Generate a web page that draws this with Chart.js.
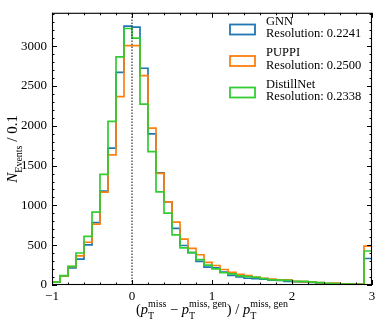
<!DOCTYPE html>
<html><head><meta charset="utf-8">
<script src="https://cdn.jsdelivr.net/npm/chart.js@4.4.1/dist/chart.umd.min.js"></script>
<style>html,body{margin:0;padding:0;background:#fff;}#wrap{width:382px;height:327px;position:relative;}</style>
</head><body><div id="wrap"><canvas id="c" width="382" height="327"></canvas></div>
<script>
// Bin edges (width 0.1) from -1 to 3
const binEdges = [-1.0,-0.9,-0.8,-0.7,-0.6,-0.5,-0.4,-0.3,-0.2,-0.1,0.0,0.1,0.2,0.3,0.4,0.5,0.6,0.7,0.8,0.9,1.0,1.1,1.2,1.3,1.4,1.5,1.6,1.7,1.8,1.9,2.0,2.1,2.2,2.3,2.4,2.5,2.6,2.7,2.8,2.9,3.0];
const gnnCounts     = [35,110,216,325,504,784,1180,1720,2671,3252,3240,2723,1899,1410,1045,711,496,406,297,224,215,163,122,102,85,80,75,61,58,45,41,40,33,12,15,10,12,10,8,333];
const puppiCounts   = [35,115,232,366,537,765,1167,1634,2366,3008,3008,2630,1972,1402,1045,789,577,459,380,285,245,195,160,135,118,98,85,73,65,65,45,42,35,30,22,25,15,12,10,488];
const distillCounts = [35,118,235,402,610,915,1390,2057,2866,3223,3101,2272,1675,1171,902,630,467,406,320,250,203,154,140,114,105,95,80,65,61,58,45,45,35,30,20,18,12,10,8,427];
const seriesNames = ['GNN','PUPPI','DistillNet'];
const resolutions = ['0.2241','0.2500','0.2338'];
const seriesColors = ['#1f77b4','#ff7f0e','#32cd32'];
const xTicks = [-1,0,1,2,3];
const yTicks = [0,500,1000,1500,2000,2500,3000];
const yMax = 3420;

const FONT = "'Liberation Serif', 'DejaVu Serif', serif";

function stepPoints(counts){
  const pts = counts.map((v,i)=>({x:binEdges[i], y:v}));
  pts.push({x:binEdges[binEdges.length-1], y:counts[counts.length-1]});
  return pts;
}
const allCounts = [gnnCounts, puppiCounts, distillCounts];
const datasets = allCounts.map((c,i)=>({
  label: seriesNames[i], data: stepPoints(c), borderColor: seriesColors[i],
  borderWidth: 1.7, stepped: 'before', pointRadius: 0, fill: false, tension: 0,
  order: 3 - i
}));
datasets.push({label:'zero', data:[{x:0,y:0},{x:0,y:yMax}], borderColor:'#333', borderWidth:1.2,
  borderDash:[1.5,1.5], pointRadius:0, fill:false, order: 0});

function drawMath(ctx, parts, cx, cy, base, small){
  const widths = parts.map(p=>{
    ctx.font = (p.it?'italic ':'') + base + 'px ' + FONT;
    let w = ctx.measureText(p.t).width;
    let ws = 0;
    ctx.font = small + 'px ' + FONT;
    if (p.sub) ws = Math.max(ws, ctx.measureText(p.sub).width);
    if (p.sup) ws = Math.max(ws, ctx.measureText(p.sup).width);
    return {w, ws};
  });
  const total = widths.reduce((a,b)=>a+b.w+b.ws,0);
  let x = cx - total/2;
  ctx.textBaseline = 'alphabetic';
  ctx.textAlign = 'left';
  parts.forEach((p,i)=>{
    ctx.font = (p.it?'italic ':'') + base + 'px ' + FONT;
    ctx.fillText(p.t, x, cy);
    x += widths[i].w;
    ctx.font = small + 'px ' + FONT;
    if (p.sub) ctx.fillText(p.sub, x, cy + base*0.32);
    if (p.sup) ctx.fillText(p.sup, x, cy - base*0.5);
    x += widths[i].ws;
  });
}

const decorPlugin = {
  id: 'decor',
  afterDatasetsDraw(chart){
    const ctx = chart.ctx, a = chart.chartArea;
    const xs = chart.scales.x, ys = chart.scales.y;
    ctx.save();
    ctx.strokeStyle = '#000';
    ctx.lineWidth = 1;
    const tick = (x1,y1,x2,y2)=>{ctx.beginPath();ctx.moveTo(x1,y1);ctx.lineTo(x2,y2);ctx.stroke();};
    for (let k=0;k<=20;k++){
      const v = -1 + k*0.2;
      const px = Math.round(xs.getPixelForValue(v))+0.5;
      const major = (k%5===0);
      const L = major?5:2.5;
      tick(px,a.bottom,px,a.bottom-L);
      tick(px,a.top,px,a.top+L);
    }
    for (let v=0; v<=yMax; v+=100){
      const py = Math.round(ys.getPixelForValue(v))+0.5;
      const major = (v%500===0);
      const L = major?5:2.5;
      tick(a.left,py,a.left+L,py);
      tick(a.right,py,a.right-L,py);
    }
    ctx.lineWidth = 1.1;
    ctx.strokeRect(a.left+0.5, a.top+0.5, a.right-a.left-1, a.bottom-a.top-1);
    ctx.restore();
  },
  afterDraw(chart){
    const ctx = chart.ctx;
    ctx.save();
    ctx.fillStyle = '#000';
    for (let i=0;i<seriesNames.length;i++){
      const y0 = 21.5 + i*31.5;
      ctx.strokeStyle = seriesColors[i];
      ctx.lineWidth = 1.8;
      ctx.strokeRect(230, y0+3, 25, 10);
      ctx.font = '12.5px ' + FONT;
      ctx.textAlign = 'left';
      ctx.textBaseline = 'middle';
      ctx.fillText(seriesNames[i], 266, y0);
      ctx.fillText('Resolution: ' + resolutions[i], 266, y0+12.5);
    }
    const cx = (chart.chartArea.left + chart.chartArea.right)/2;
    drawMath(ctx, [
      {t:'('}, {t:'p', it:true, sub:'T', sup:'miss'}, {t:' − '},
      {t:'p', it:true, sub:'T', sup:'miss, gen'}, {t:') / '},
      {t:'p', it:true, sub:'T', sup:'miss, gen'}
    ], cx, 314, 14.5, 10);
    ctx.translate(15, (chart.chartArea.top + chart.chartArea.bottom)/2);
    ctx.rotate(-Math.PI/2);
    drawMath(ctx, [{t:'N', it:true, sub:'Events'}, {t:' / 0.1'}], 0, 2, 15, 10);
    ctx.restore();
  }
};

new Chart(document.getElementById('c'), {
  type: 'line',
  data: { datasets },
  options: {
    responsive: false, animation: false, devicePixelRatio: 1,
    layout: { padding: { top: 5, right: 10, left: 0, bottom: 0 } },
    plugins: { legend: { display: false }, tooltip: { enabled: false } },
    scales: {
      x: {
        type: 'linear', min: -1, max: 3,
        afterBuildTicks: s => { s.ticks = xTicks.map(v=>({value:v})); },
        afterFit: s => { s.height = 42; },
        grid: { display: false, drawTicks: false }, border: { display: false },
        ticks: { font: { family: FONT, size: 13 }, color: '#000', padding: 4, maxRotation: 0, autoSkip: false,
          callback: v => String(v).replace('-', '−') }
      },
      y: {
        min: 0, max: yMax,
        afterBuildTicks: s => { s.ticks = yTicks.map(v=>({value:v})); },
        afterFit: s => { s.width = 52; },
        grid: { display: false, drawTicks: false }, border: { display: false },
        ticks: { font: { family: FONT, size: 13 }, color: '#000', padding: 5, autoSkip: false,
          callback: v => String(v) }
      }
    }
  },
  plugins: [decorPlugin]
});
</script></body></html>
